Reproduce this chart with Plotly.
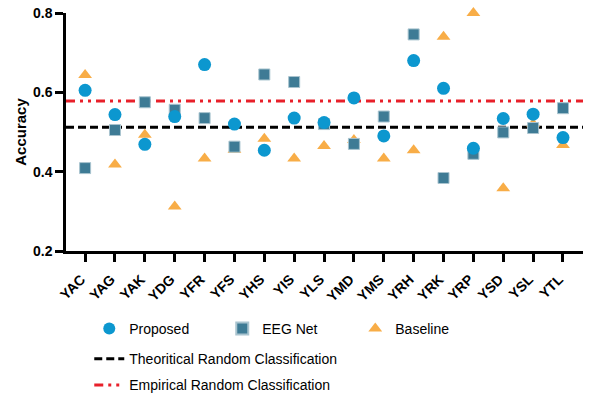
import plotly.graph_objects as go

subjects = ["YAC", "YAG", "YAK", "YDG", "YFR", "YFS", "YHS", "YIS", "YLS",
            "YMD", "YMS", "YRH", "YRK", "YRP", "YSD", "YSL", "YTL"]
proposed = [0.605, 0.544, 0.469, 0.539, 0.670, 0.520, 0.454, 0.535, 0.524,
            0.586, 0.490, 0.680, 0.610, 0.459, 0.534, 0.545, 0.486]
eegnet = [0.409, 0.505, 0.575, 0.556, 0.535, 0.463, 0.645, 0.626, 0.520,
          0.470, 0.539, 0.746, 0.384, 0.445, 0.499, 0.510, 0.560]
baseline = [0.644, 0.418, 0.493, 0.312, 0.433, 0.455, 0.483, 0.433, 0.465,
            0.480, 0.433, 0.454, 0.740, 0.800, 0.358, 0.520, 0.467]
theoretical_random = 0.512
empirical_random = 0.578

idx = list(range(len(subjects)))
xmin, xmax = -0.64, 16.67

FONT = "Liberation Sans, Arial, sans-serif"

fig = go.Figure()

fig.add_trace(go.Scatter(
    x=[xmin, xmax], y=[theoretical_random] * 2, mode="lines",
    name="Theoritical Random Classification",
    line=dict(color="black", width=3, dash="8px,4px"),
    legend="legend2", legendrank=1, legendgroup="t"))
fig.add_trace(go.Scatter(
    x=[xmin, xmax], y=[empirical_random] * 2, mode="lines",
    name="Empirical Random Classification",
    line=dict(color="#E8202A", width=3, dash="9px,5px,3px,5px,3px,5px"),
    legend="legend2", legendrank=2, legendgroup="e"))

fig.add_trace(go.Scatter(
    x=idx, y=baseline, mode="markers", name="Baseline", cliponaxis=False,
    marker=dict(symbol="triangle-up", size=12, color="#F8AD47",
                line=dict(width=0)),
    legendrank=3))
fig.add_trace(go.Scatter(
    x=idx, y=eegnet, mode="markers", name="EEG Net", cliponaxis=False,
    marker=dict(symbol="square", size=11, color="#3E7B95",
                line=dict(width=1, color="#A9C4CF")),
    legendrank=2))
fig.add_trace(go.Scatter(
    x=idx, y=proposed, mode="markers", name="Proposed", cliponaxis=False,
    marker=dict(symbol="circle", size=13, color="#0C97CF",
                line=dict(width=0)),
    legendrank=1))

fig.update_layout(
    width=595, height=394,
    margin=dict(l=66, r=12, t=13, b=143, autoexpand=False),
    plot_bgcolor="white", paper_bgcolor="white",
    font=dict(family=FONT, color="black"),
    legend=dict(orientation="h", x=0.045, y=-0.26, xanchor="left", yanchor="top",
                entrywidth=88, entrywidthmode="pixels",
                font=dict(size=14), itemsizing="constant",
                bgcolor="rgba(0,0,0,0)"),
    legend2=dict(orientation="v", x=0.045, y=-0.387, xanchor="left", yanchor="top",
                 font=dict(size=14), tracegroupgap=5,
                 bgcolor="rgba(0,0,0,0)"),
    xaxis=dict(range=[xmin, xmax], tickvals=idx, ticktext=subjects,
               tickangle=-45, showgrid=False, zeroline=False,
               showline=True, linecolor="black", linewidth=2.5,
               ticks="outside", ticklen=8, tickwidth=2.5, tickcolor="black",
               ticklabelstandoff=4, ticklabelshift=-4,
               tickfont=dict(size=14, family=FONT, weight="bold")),
    yaxis=dict(range=[0.2, 0.8], tickvals=[0.2, 0.4, 0.6, 0.8],
               ticktext=["0.2", "0.4", "0.6", "0.8"],
               showgrid=False, zeroline=False,
               showline=True, linecolor="black", linewidth=2.5,
               ticks="outside", ticklen=8, tickwidth=2.5, tickcolor="black",
               ticklabeloverflow="allow",
               tickfont=dict(size=14, weight="bold"),
               title=dict(text="<b>Accuracy</b>", font=dict(size=15), standoff=3)),
)

fig.write_html("out.html", config={"displayModeBar": False},
               post_script="document.body.style.margin='0';")
